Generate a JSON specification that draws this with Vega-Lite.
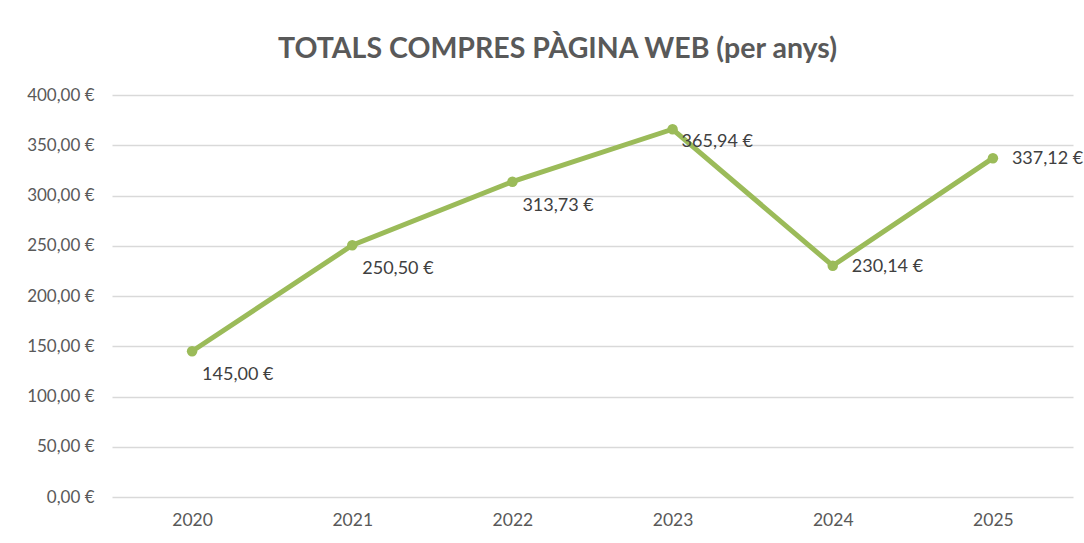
{
  "$schema": "https://vega.github.io/schema/vega-lite/v6.json",
  "autosize": {"type": "none"},
  "width": 961,
  "height": 402,
  "padding": {"left": 112, "top": 95, "right": 11, "bottom": 46},
  "background": "white",
  "config": {
    "font": "Lato",
    "view": {"stroke": null},
    "locale": {"number": {"decimal": ",", "thousands": ".", "grouping": [3], "currency": ["", " €"]}}
  },
  "title": {
    "text": "TOTALS COMPRES PÀGINA WEB (per anys)",
    "fontSize": 28.5,
    "fontWeight": "bold",
    "color": "#595959",
    "font": "Lato",
    "anchor": "middle",
    "dx": -35,
    "offset": 23
  },
  "data": {
    "values": [
      {"year": "2020", "value": 145.00},
      {"year": "2021", "value": 250.50},
      {"year": "2022", "value": 313.73},
      {"year": "2023", "value": 365.94},
      {"year": "2024", "value": 230.14},
      {"year": "2025", "value": 337.12}
    ]
  },
  "encoding": {
    "x": {
      "field": "year", "type": "ordinal",
      "scale": {"paddingInner": 0, "paddingOuter": 0},
      "axis": {"title": null, "labelAngle": 0, "ticks": false, "domain": false, "labelFontSize": 17.5, "labelColor": "#595959", "labelPadding": 14, "labelFont": "Lato"}
    },
    "y": {
      "field": "value", "type": "quantitative",
      "scale": {"domain": [0, 400]},
      "axis": {"title": null, "values": [0,50,100,150,200,250,300,350,400], "labelOverlap": false, "format": "$,.2f", "ticks": false, "domain": false, "gridColor": "#d9d9d9", "gridWidth": 1.3, "labelFontSize": 17, "labelColor": "#595959", "labelPadding": 18, "labelFont": "Lato"}
    }
  },
  "layer": [
    {"mark": {"type": "line", "color": "#9bbb59", "strokeWidth": 5}},
    {"mark": {"type": "point", "filled": true, "color": "#9bbb59", "size": 110, "opacity": 1}},
    {
      "transform": [{"filter": "datum.year <= '2022'"}],
      "mark": {"type": "text", "align": "left", "baseline": "middle", "dx": 10, "dy": 24, "fontSize": 18, "color": "#404040", "font": "Lato"},
      "encoding": {"text": {"field": "value", "type": "quantitative", "format": "$,.2f"}}
    },
    {
      "transform": [{"filter": "datum.year == '2023'"}],
      "mark": {"type": "text", "align": "left", "baseline": "middle", "dx": 9, "dy": 13, "fontSize": 18, "color": "#404040", "font": "Lato"},
      "encoding": {"text": {"field": "value", "type": "quantitative", "format": "$,.2f"}}
    },
    {
      "transform": [{"filter": "datum.year >= '2024'"}],
      "mark": {"type": "text", "align": "left", "baseline": "middle", "dx": 19, "dy": 1, "fontSize": 18, "color": "#404040", "font": "Lato"},
      "encoding": {"text": {"field": "value", "type": "quantitative", "format": "$,.2f"}}
    }
  ]
}
